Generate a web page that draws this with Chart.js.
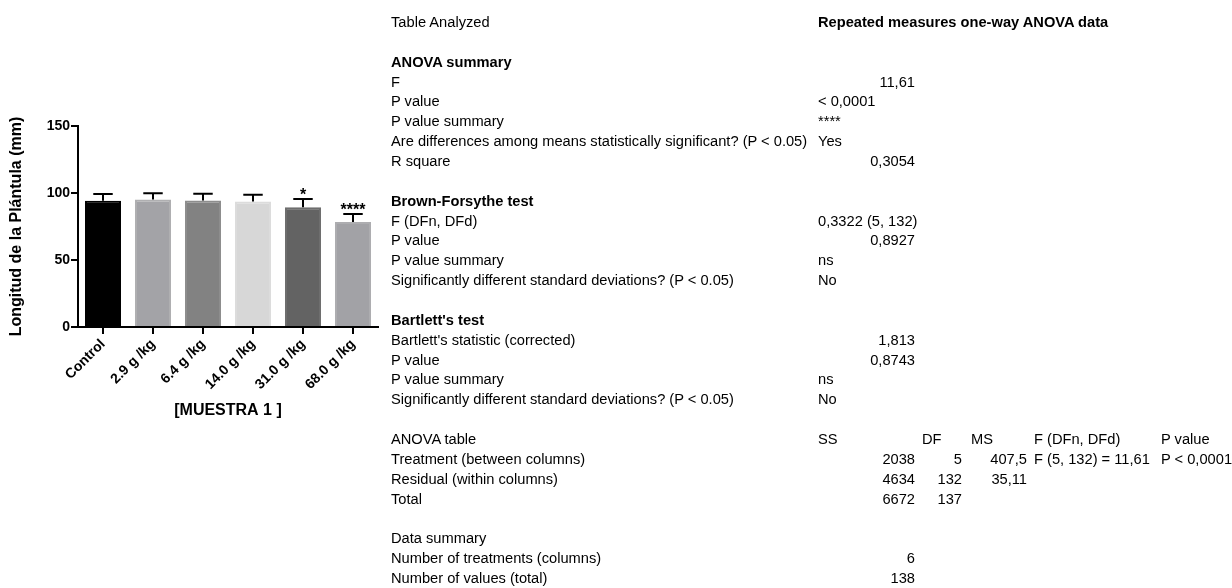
<!DOCTYPE html>
<html>
<head>
<meta charset="utf-8">
<script src="https://cdn.jsdelivr.net/npm/chart.js@4.4.1/dist/chart.umd.min.js"></script>
<style>
  html, body { margin: 0; padding: 0; background: #ffffff; }
  body { width: 1232px; height: 588px; position: relative; overflow: hidden; }
  #chartBox { position: absolute; left: 0; top: 0; width: 390px; height: 430px; }
  #table { position: absolute; left: 0; top: 0; width: 1232px; height: 588px;
           font-family: "Liberation Sans", Arial, sans-serif; font-size: 14.67px; color: #000; }
  #table div { position: absolute; white-space: nowrap; line-height: 20px; height: 20px; }
  #table .b { font-weight: bold; }
</style>
</head>
<body>
<div id="chartBox"><canvas id="c" width="390" height="430"></canvas></div>
<div id="table"></div>
<script>
// ---------- chart data ----------
const categories = ["Control", "2.9 g /kg", "6.4 g /kg", "14.0 g /kg", "31.0 g /kg", "68.0 g /kg"];
const means = [94.2, 95.2, 94.4, 93.6, 89.4, 78.4];
const errors = [5.0, 4.7, 5.0, 5.1, 6.1, 6.0];
const significance = ["", "", "", "", "*", "****"];
const yTicks = [0, 50, 100, 150];
const barColors = ["#000000", "#a3a3a7", "#828282", "#d7d7d7", "#636363", "#a2a2a6"];
const barBorders = ["#000000", "#afafb1", "#8d8d8d", "#dcdcdc", "#6e6e6e", "#adadb0"];
const yTitle = "Longitud de la Plántula (mm)";
const xTitle = "[MUESTRA 1 ]";

// ---------- table data ----------
const tableLabels = ["Table Analyzed", "", "ANOVA summary", "F", "P value", "P value summary",
  "Are differences among means statistically significant? (P < 0.05)", "R square", "",
  "Brown-Forsythe test", "F (DFn, DFd)", "P value", "P value summary",
  "Significantly different standard deviations? (P < 0.05)", "",
  "Bartlett's test", "Bartlett's statistic (corrected)", "P value", "P value summary",
  "Significantly different standard deviations? (P < 0.05)", "",
  "ANOVA table", "Treatment (between columns)", "Residual (within columns)", "Total", "",
  "Data summary", "Number of treatments (columns)", "Number of values (total)"];
const boldRows = [2, 9, 15];
const valueText = ["Repeated measures one-way ANOVA data", "", "", "", "< 0,0001", "****", "Yes", "", "",
  "", "0,3322 (5, 132)", "", "ns", "No", "", "", "", "", "ns", "No", "", "SS", "", "", "", "", "", "", ""];
const valueNum = ["", "", "", "11,61", "", "", "", "0,3054", "", "", "", "0,8927", "", "", "", "",
  "1,813", "0,8743", "", "", "", "", "2038", "4634", "6672", "", "", "6", "138"];
const anovaHeaderDF = "DF", anovaHeaderMS = "MS", anovaHeaderF = "F (DFn, DFd)", anovaHeaderP = "P value";
const anovaDF = ["5", "132", "137"];
const anovaMS = ["407,5", "35,11", ""];
const anovaF = ["F (5, 132) = 11,61", "", ""];
const anovaP = ["P < 0,0001", "", ""];

// ---------- table layout ----------
(function buildTable() {
  const box = document.getElementById('table');
  const rowY = i => 12 + 19.86 * i;
  function put(text, row, x, align, bold) {
    if (!text) return;
    const d = document.createElement('div');
    d.textContent = text;
    d.style.top = rowY(row) + 'px';
    if (align === 'right') d.style.right = (1232 - x) + 'px';
    else d.style.left = x + 'px';
    if (bold) d.className = 'b';
    box.appendChild(d);
  }
  tableLabels.forEach((t, i) => put(t, i, 391, 'left', boldRows.includes(i)));
  valueText.forEach((t, i) => put(t, i, 818, 'left', i === 0));
  valueNum.forEach((t, i) => put(t, i, 915, 'right', false));
  const hdr = tableLabels.indexOf("ANOVA table");
  put(anovaHeaderDF, hdr, 922, 'left');
  put(anovaHeaderMS, hdr, 971, 'left');
  put(anovaHeaderF, hdr, 1034, 'left');
  put(anovaHeaderP, hdr, 1161, 'left');
  anovaDF.forEach((t, i) => put(t, hdr + 1 + i, 962, 'right'));
  anovaMS.forEach((t, i) => put(t, hdr + 1 + i, 1027, 'right'));
  anovaF.forEach((t, i) => put(t, hdr + 1 + i, 1034, 'left'));
  anovaP.forEach((t, i) => put(t, hdr + 1 + i, 1161, 'left'));
})();

// ---------- chart ----------
const FONT = "'Liberation Sans', Arial, sans-serif";

const errorBarPlugin = {
  id: 'errorBars',
  afterDatasetsDraw(chart) {
    const ctx = chart.ctx;
    const meta = chart.getDatasetMeta(0);
    const y = chart.scales.y;
    ctx.save();
    ctx.strokeStyle = '#000';
    ctx.lineWidth = 2;
    meta.data.forEach((bar, i) => {
      const x = bar.x;
      const yTop = y.getPixelForValue(means[i] + errors[i]);
      const yMean = y.getPixelForValue(means[i]);
      const half = bar.width * 0.27;
      ctx.beginPath();
      ctx.moveTo(x, yMean);
      ctx.lineTo(x, yTop);
      ctx.moveTo(x - half, yTop);
      ctx.lineTo(x + half, yTop);
      ctx.stroke();
      if (significance[i]) {
        ctx.fillStyle = '#000';
        ctx.font = 'bold 16px ' + FONT;
        ctx.textAlign = 'center';
        ctx.textBaseline = 'alphabetic';
        ctx.fillText(significance[i], x, yTop + 1);
      }
    });
    ctx.restore();
  }
};

new Chart(document.getElementById('c'), {
  type: 'bar',
  data: {
    labels: categories,
    datasets: [{
      data: means,
      backgroundColor: barColors,
      borderColor: barBorders,
      borderWidth: 2,
      borderSkipped: 'bottom',
      categoryPercentage: 1.0,
      barPercentage: 0.72
    }]
  },
  options: {
    responsive: false,
    animation: false,
    devicePixelRatio: 1,
    layout: { padding: { top: 126, right: 12, bottom: 0, left: 0 } },
    plugins: { legend: { display: false }, tooltip: { enabled: false } },
    scales: {
      x: {
        offset: true,
        border: { display: true, color: '#000', width: 2 },
        grid: { display: true, offset: false, drawOnChartArea: false, drawTicks: true, tickLength: 7, color: '#000', lineWidth: 2 },
        ticks: { color: '#000', font: { family: FONT, size: 14, weight: 'bold' }, minRotation: 45, maxRotation: 45, autoSkip: false, padding: 2 },
        title: { display: true, text: xTitle, color: '#000', font: { family: FONT, size: 16, weight: 'bold' }, padding: { top: 0, bottom: 10 } },
        afterFit(scale) { scale.height = 103; }
      },
      y: {
        min: 0, max: 150,
        border: { display: true, color: '#000', width: 2 },
        grid: { display: true, drawOnChartArea: false, drawTicks: true, tickLength: 7, color: '#000', lineWidth: 2 },
        afterBuildTicks(scale) { scale.ticks = yTicks.map(v => ({ value: v })); },
        ticks: { color: '#000', font: { family: FONT, size: 14, weight: 'bold' }, padding: 1 },
        title: { display: true, text: yTitle, color: '#000', font: { family: FONT, size: 16, weight: 'bold' }, padding: { top: 7, bottom: 0 } },
        afterFit(scale) { scale.width = 78; }
      }
    }
  },
  plugins: [errorBarPlugin]
});
</script>
</body>
</html>
